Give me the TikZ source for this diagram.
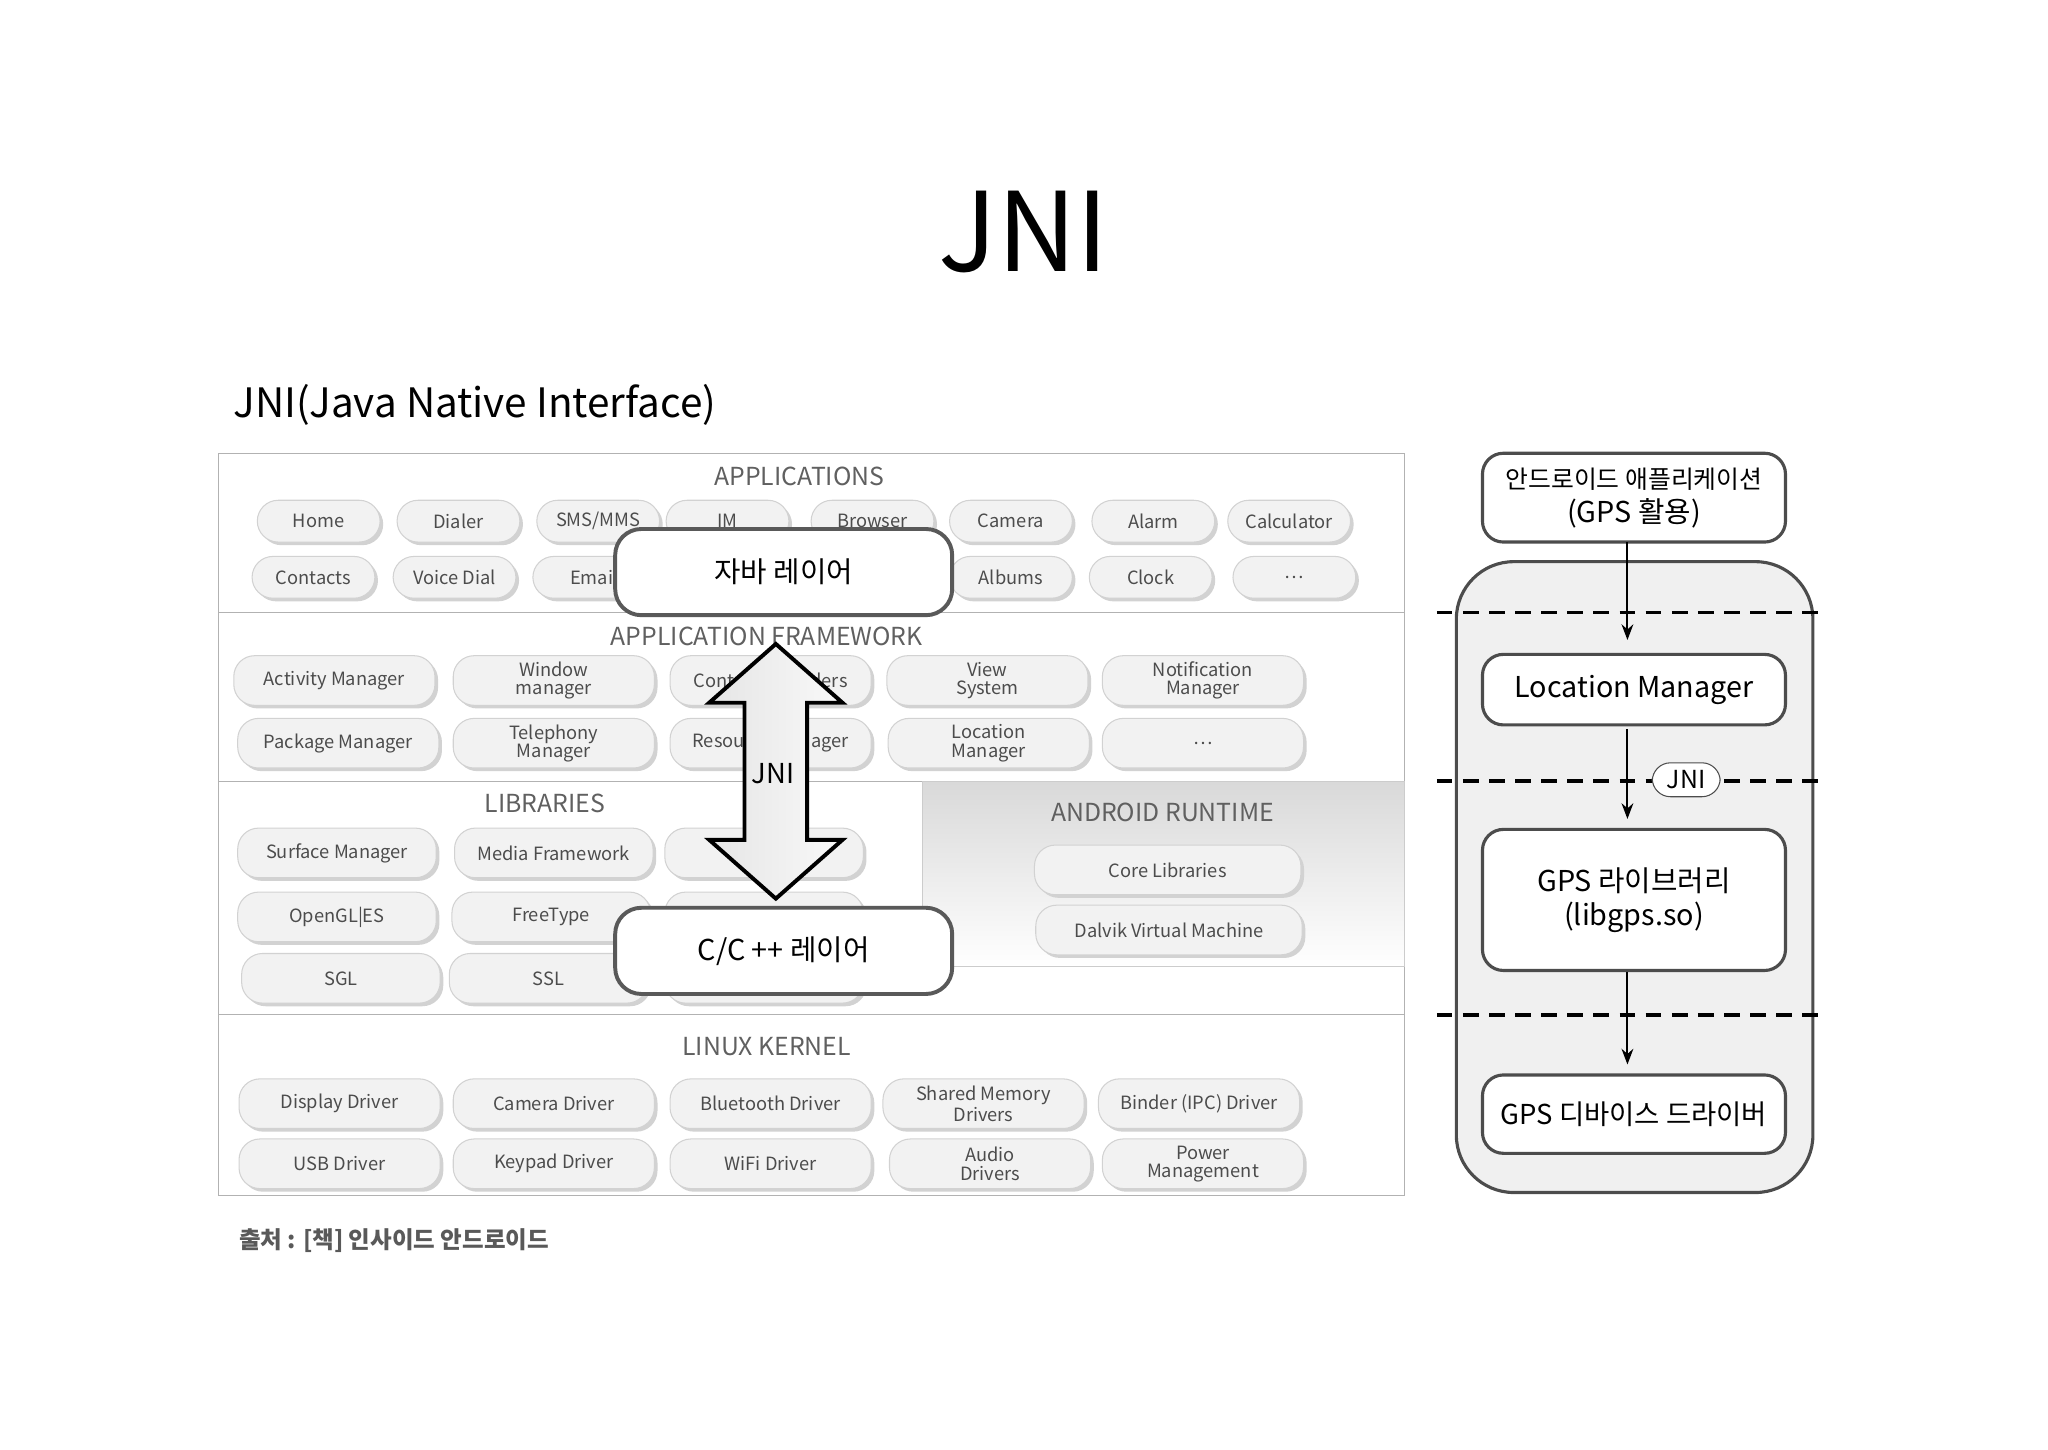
\documentclass[tikz,border=0pt]{standalone}
\usepackage{fontspec}
\setmainfont{Noto Sans CJK KR}
\usetikzlibrary{shadows,arrows.meta}
\begin{document}
\begin{tikzpicture}[x=0.5pt,y=-0.5pt,
  btn/.style={draw=gray!35,fill=gray!10,rounded corners=8pt,minimum height=16pt,text=gray!60!black,font=\fontsize{7}{7}\selectfont,align=center,inner sep=1pt,
    drop shadow={shadow xshift=1.2pt,shadow yshift=-1.2pt,fill=gray!35,opacity=1}},
  hdr/.style={text=gray!75!black,font=\fontsize{9.5}{9.5}\selectfont},
  ovl/.style={draw=gray!70!black,line width=1.5pt,fill=white,rounded corners=10pt,font=\fontsize{11}{11}\selectfont},
  rbox/.style={draw=gray!60!black,line width=1.2pt,fill=white,rounded corners=8pt,font=\fontsize{11}{13}\selectfont,align=center},
  dl/.style={dashed,dash pattern=on 6pt off 4pt,line width=1.4pt},
  ar/.style={-{Stealth[length=6pt]},line width=0.8pt}]
\useasboundingbox (0,0) rectangle (1568,1110);
\node (title) at (784,178) {\fontsize{42}{42}\selectfont JNI};
\node[anchor=west] (sub) at (172,310) {\fontsize{15.5}{15.5}\selectfont JNI(Java Native Interface)};
% left frame
\draw[gray!60,fill=white] (167,347) rectangle (1075,915);
\draw[gray!60] (167,469)--(1075,469) (167,598)--(1075,598) (167,777)--(1075,777);
\shade[top color=gray!30,bottom color=white,draw=gray!40] (706,598) rectangle (1075,740);
\node[hdr] (h1) at (612,365) {APPLICATIONS};
\node[hdr] (h2) at (587,487) {APPLICATION FRAMEWORK};
\node[hdr] (h3) at (417,615) {LIBRARIES};
\node[hdr] (h4) at (890,622) {ANDROID RUNTIME};
\node[hdr] (h5) at (587,801) {LINUX KERNEL};
% applications
\foreach \x/\t [count=\i] in {244/Home,351/Dialer,458/{SMS/MMS},557/IM,668/Browser,774/Camera,883/Alarm,987/Calculator}
  \node[btn,minimum width=47pt] (a\i) at (\x,399) {\t};
\foreach \x/\t [count=\i] in {240/Contacts,348/Voice Dial,455/Email,560/{},774/Albums,881/Clock,991/{\ldots}}
  \node[btn,minimum width=47pt] (b\i) at (\x,442) {\t};
% framework
\foreach \x/\t [count=\i] in {256/Activity Manager,424/{Window\\manager},590/Content Providers,756/{View\\System},921/{Notification\\Manager}}
  \node[btn,minimum width=77pt,minimum height=19pt] (f\i) at (\x,521) {\t};
\foreach \x/\t [count=\i] in {259/Package Manager,424/{Telephony\\Manager},590/Resource Manager,757/{Location\\Manager},921/{\ldots}}
  \node[btn,minimum width=77pt,minimum height=19pt] (g\i) at (\x,569) {\t};
% libraries
\foreach \x/\t [count=\i] in {258/Surface Manager,424/Media Framework,585/{}}
  \node[btn,minimum width=76pt,minimum height=19pt] (l\i) at (\x,653) {\t};
\foreach \x/\t [count=\i] in {258/{OpenGL|ES},422/FreeType,585/{}}
  \node[btn,minimum width=76pt,minimum height=19pt] (m\i) at (\x,702) {\t};
\foreach \x/\t [count=\i] in {261/SGL,420/SSL,585/{}}
  \node[btn,minimum width=76pt,minimum height=19pt] (n\i) at (\x,749) {\t};
\node[btn,minimum width=102pt,minimum height=19pt] (rt1) at (894,666) {Core Libraries};
\node[btn,minimum width=102pt,minimum height=19pt] (rt2) at (895,712) {Dalvik Virtual Machine};
% kernel
\foreach \x/\t [count=\i] in {260/Display Driver,424/Camera Driver,590/Bluetooth Driver,753/{Shared Memory\\Drivers},918/Binder (IPC) Driver}
  \node[btn,minimum width=77pt,minimum height=19pt] (k\i) at (\x,845) {\t};
\foreach \x/\t [count=\i] in {260/USB Driver,424/Keypad Driver,590/WiFi Driver,758/{Audio\\Drivers},921/{Power\\Management}}
  \node[btn,minimum width=77pt,minimum height=19pt] (q\i) at (\x,891) {\t};
% overlays
\node[ovl,minimum width=129pt,minimum height=33pt] (java) at (600,438) {자바 레이어};
\node[ovl,minimum width=129pt,minimum height=33pt] (cc) at (600,728) {C/C ++ 레이어};
\shade[left color=gray!20,right color=gray!5,draw=black,line width=1.5pt,line join=miter]
  (594,493)--(645,538)--(618,538)--(618,643)--(645,643)--(594,688)--(543,643)--(570,643)--(570,538)--(543,538)--cycle;
\node[font=\fontsize{10.5}{10.5}\selectfont] (jni) at (592,592) {JNI};
% right
\draw[gray!60!black,line width=1.2pt,fill=gray!12,rounded corners=22pt] (1115,430) rectangle (1388,913);
\node[rbox,minimum width=116pt,minimum height=34pt] (app) at (1251,381) {\fontsize{9.5}{12.5}\selectfont 안드로이드 애플리케이션\\(GPS 활용)};
\node[rbox,minimum width=116pt,minimum height=27pt] (lm) at (1251,528) {Location Manager};
\node[rbox,minimum width=116pt,minimum height=54pt] (lib) at (1251,689) {GPS 라이브러리\\(libgps.so)};
\node[rbox,minimum width=116pt,minimum height=30pt,font=\fontsize{10.5}{12}\selectfont] (drv) at (1251,853) {GPS 디바이스 드라이버};
\coordinate (d1a) at (1100,469); \coordinate (d1b) at (1397,469);
\coordinate (d2a) at (1100,598); \coordinate (d2b) at (1397,598);
\coordinate (d3a) at (1100,777); \coordinate (d3b) at (1397,777);
\draw[dl] (d1a)--(d1b); \draw[dl] (d2a)--(d2b); \draw[dl] (d3a)--(d3b);
\draw[ar] (1246,415)--(1246,490);
\draw[ar] (1246,558)--(1246,627);
\draw[ar] (1246,744)--(1246,815);
\node[draw=gray!60!black,fill=white,rounded corners=7pt,minimum width=26pt,minimum height=13pt,inner sep=1pt,font=\fontsize{9.5}{9.5}\selectfont] (jp) at (1291,597) {JNI};
\node[anchor=west,text=gray!70!black,font=\bfseries\fontsize{9}{9}\selectfont] (src) at (176,950) {출처 : [책] 인사이드 안드로이드};
\end{tikzpicture}
\end{document}
